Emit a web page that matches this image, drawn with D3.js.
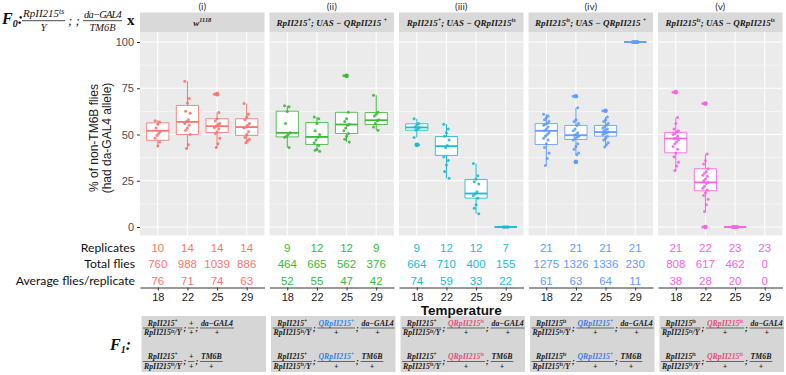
<!DOCTYPE html>
<html>
<head>
<meta charset="utf-8">
<script src="https://cdn.jsdelivr.net/npm/d3@7/dist/d3.min.js"></script>
<style>
  body { margin: 0; background: #fff; }
</style>
</head>
<body>
<div id="chart"></div>
<script>
// panels (facets) and x categories
const panelTitles = ["(i)", "(ii)", "(iii)", "(iv)", "(v)"];
const stripLabels = [
  [["w", "1118"]],
  [["RpII215", "+"], ["; UAS − QRpII215 ", "+"]],
  [["RpII215", "+"], ["; UAS − QRpII215", "ts"]],
  [["RpII215", "ts"], ["; UAS − QRpII215 ", "+"]],
  [["RpII215", "ts"], ["; UAS − QRpII215", "ts"]]
];
const temps = ["18", "22", "25", "29"];
const yTicks = [0, 25, 50, 75, 100];

// table rows under the plot
const replicates = [[10, 14, 14, 14], [9, 12, 12, 9], [9, 12, 12, 7], [21, 21, 21, 21], [21, 22, 23, 23]];
const totalFlies = [[760, 988, 1039, 886], [464, 665, 562, 376], [664, 710, 400, 155], [1275, 1326, 1336, 230], [808, 617, 462, 0]];
const avgFlies = [[76, 71, 74, 63], [52, 55, 47, 42], [74, 59, 33, 22], [61, 63, 64, 11], [38, 28, 20, 0]];

// box stats (% non-TM6B), per panel per temperature
const boxQ1  = [[46.9, 50.0, 51.1, 49.5], [48.7, 44.6, 50.5, 55.4], [52.3, 38.7, 15.6, 0], [44.6, 47.3, 49.1, 100], [40.1, 19.6, 0, null]];
const boxMed = [[52.0, 56.8, 54.5, 54.0], [50.9, 48.7, 55.4, 57.7], [53.8, 43.7, 18.1, 0], [52.0, 49.6, 51.3, 100], [47.8, 24.1, 0, null]];
const boxQ3  = [[56.3, 65.7, 58.5, 58.5], [62.6, 56.5, 62.0, 61.9], [55.8, 48.9, 25.7, 0], [55.9, 54.9, 54.9, 100], [51.1, 31.5, 0, null]];
const whiskLo = [[43.7, 42.4, 43.0, 45.5], [43.0, 41.0, 46.0, 52.3], [48.4, 26.4, 7.2, 0], [33.3, 39.0, 43.3, 100], [30.6, 8.4, 0, null]];
const whiskHi = [[57.7, 78.8, 61.9, 66.7], [65.5, 59.5, 62.0, 71.2], [58.5, 55.6, 34.3, 0], [61.0, 64.4, 59.5, 100], [59.2, 39.4, 0, null]];
const outliers = [
  [[], [], [71.8], []],
  [[], [], [81.7], []],
  [[44.4], [], [], []],
  [[], [70.7, 35.2], [62.8], []],
  [[72.9], [66.7, 0], [], []]
];

// individual replicates
const pointsI = [
  [57.5, 56.8, 55.5, 53.5, 51.5, 50.5, 49.5, 48, 46, 43.8],
  [78.8, 69.4, 67, 62.6, 61.5, 58, 57, 56, 55, 53.5, 52.3, 50, 44.5, 42.4],
  [71.8, 61.9, 58.5, 57.3, 56, 55.5, 54.5, 53.8, 53, 51.5, 50.5, 48, 45, 43],
  [66.7, 61, 59.5, 58, 56, 55, 54, 53.5, 51.5, 50, 48.5, 47.5, 46.5, 45.5]
];
const pointsII = [
  [65.5, 65, 62.5, 56, 51, 50, 49, 48.5, 43],
  [59.5, 58.5, 56, 52, 50, 48.5, 47, 45.5, 44, 42, 41.5, 41],
  [81.7, 62, 58.5, 57, 55.5, 55, 53.5, 52, 50.5, 49, 47.5, 46],
  [71.2, 62, 61, 60, 58, 57.5, 56, 54, 52.3]
];
const pointsIII = [
  [58.5, 56, 55, 54, 53.8, 53, 52.5, 48.4, 44.4],
  [55.6, 53, 51, 49, 47, 44, 43, 38, 36, 33.5, 30, 26.4],
  [34.3, 27.7, 26, 24.5, 23.2, 19, 18, 17, 15.5, 12, 10.2, 7.2],
  [0, 0, 0, 0, 0, 0, 0]
];
const pointsIV = [
  [61, 60, 59, 58, 57, 56, 55.5, 55, 54, 53, 52, 51, 50, 49, 48, 47, 45, 43, 40, 37, 33.3],
  [70.7, 64.4, 58, 57, 56, 54.9, 53, 52, 51, 50, 49.6, 49, 48.5, 48, 47, 45, 43.5, 42, 40, 39, 35.2],
  [62.8, 59.5, 58, 57, 56, 55, 54, 53.5, 53, 52.5, 52, 51.3, 51, 50.5, 50, 49, 48, 47, 45.5, 44.5, 43.3],
  [100, 100, 100, 100, 100, 100, 100, 100, 100, 100, 100, 100, 100, 100, 100, 100, 100, 100, 100, 100, 100]
];
const pointsV = [
  [72.9, 59.2, 56, 53, 52, 51.5, 50.5, 50, 49, 48, 47.8, 47, 46, 45, 43.5, 42, 40, 38, 35, 33, 30.6],
  [66.7, 39.4, 36, 34, 31.5, 30, 29, 28, 27.5, 26, 25, 24.1, 23.5, 22, 21, 20, 18.5, 17, 15, 12, 8.4, 0],
  [0, 0, 0, 0, 0, 0, 0, 0, 0, 0, 0, 0, 0, 0, 0, 0, 0, 0, 0, 0, 0, 0, 0],
  []
];
const points = [pointsI, pointsII, pointsIII, pointsIV, pointsV];

// F1 genotypes under each panel
const f1First = [["RpII215", "+"], ["RpII215", "+"], ["RpII215", "+"], ["RpII215", "ts"], ["RpII215", "ts"]];
const f1Middle = [["+", ""], ["QRpII215", "+"], ["QRpII215", "ts"], ["QRpII215", "+"], ["QRpII215", "ts"]];
const f1Third = ["da−GAL4", "TM6B"];

const colors = ["#F8766D", "#3DB83A", "#1CBBD0", "#619CFF", "#F564E3"];
const midColor = { "+": "#3d7fe0", "ts": "#e4507a", "": "#1a1a1a" };

const W = 786, H = 375;
const svg = d3.select("#chart").append("svg")
  .attr("width", W).attr("height", H)
  .style("font-family", "'Liberation Sans', Arial, sans-serif");

const panelLeft = 140, panelW = 124.5, panelStep = 129.5;
const plotTop = 32, plotBottom = 235.5;
const stripTop = 12.5;
const axisY = 287.5;
const serif = "'Liberation Serif', 'DejaVu Serif', serif";

const y = d3.scaleLinear().domain([0, 100]).range([227, 42]);

// write text with superscripts into a <text>
function rich(sel, segs, fs) {
  let up = false;
  segs.forEach(([t, s]) => {
    if (t) sel.append("tspan").attr("dy", up ? fs * 0.35 : 0).text(t);
    else if (up) sel.append("tspan").attr("dy", fs * 0.35).text("");
    up = false;
    if (s) {
      sel.append("tspan").attr("dy", -fs * 0.35).attr("font-size", fs * 0.7).text(s);
      up = true;
    }
  });
  return sel;
}

// fraction: numerator over a rule over denominator, left edge at x
function frac(g, x, yRule, num, den, fs, color, opts) {
  const o = opts || {};
  const n = rich(g.append("text").attr("y", yRule - fs * 0.3)
      .attr("font-family", serif).attr("font-style", "italic")
      .attr("font-weight", o.bold ? "bold" : "normal")
      .attr("letter-spacing", o.spacing || 0)
      .attr("font-size", fs).attr("fill", color).attr("text-anchor", "middle"), num, fs);
  const d = rich(g.append("text").attr("y", yRule + fs * 0.95)
      .attr("font-family", serif).attr("font-style", "italic")
      .attr("font-weight", o.bold ? "bold" : "normal")
      .attr("font-size", fs).attr("fill", o.denColor || "#1a1a1a").attr("text-anchor", "middle"), den, fs);
  const w = Math.max(n.node().getComputedTextLength(), d.node().getComputedTextLength()) + 2;
  n.attr("x", x + w / 2);
  d.attr("x", x + w / 2);
  g.append("line").attr("x1", x).attr("x2", x + w).attr("y1", yRule).attr("y2", yRule)
    .attr("stroke", "#1a1a1a").attr("stroke-width", o.rule || 0.6);
  return w;
}

const jit = i => ((i * 5) % 7 - 3) * 0.9;

panelTitles.forEach((title, p) => {
  const x0 = panelLeft + p * panelStep, x1 = x0 + panelW;
  const x = d3.scalePoint().domain(temps).range([x0, x1]).padding(0.6);
  const bw = x.step() * 0.75;
  const col = colors[p];
  const g = svg.append("g");

  g.append("text").attr("x", (x0 + x1) / 2).attr("y", 10)
    .attr("text-anchor", "middle").attr("font-family", "Lato, sans-serif")
    .attr("font-size", 10).attr("fill", "#333").text(title);

  g.append("rect").attr("x", x0).attr("y", stripTop).attr("width", panelW)
    .attr("height", plotTop - stripTop).attr("fill", "#d9d9d9");
  rich(g.append("text").attr("x", (x0 + x1) / 2).attr("y", 25.5)
    .attr("text-anchor", "middle").attr("font-family", serif)
    .attr("font-style", "italic").attr("font-weight", "bold")
    .attr("font-size", 9).attr("fill", "#1a1a1a"), stripLabels[p], 9);

  g.append("rect").attr("x", x0).attr("y", plotTop).attr("width", panelW)
    .attr("height", plotBottom - plotTop).attr("fill", "#ebebeb");

  // grid
  [12.5, 37.5, 62.5, 87.5].forEach(v => {
    g.append("line").attr("x1", x0).attr("x2", x1).attr("y1", y(v)).attr("y2", y(v))
      .attr("stroke", "#fff").attr("stroke-width", 0.5);
  });
  yTicks.forEach(v => {
    g.append("line").attr("x1", x0).attr("x2", x1).attr("y1", y(v)).attr("y2", y(v))
      .attr("stroke", "#fff").attr("stroke-width", 1);
  });
  temps.forEach(t => {
    g.append("line").attr("x1", x(t)).attr("x2", x(t)).attr("y1", plotTop).attr("y2", plotBottom)
      .attr("stroke", "#fff").attr("stroke-width", 1);
  });

  // boxes
  temps.forEach((t, k) => {
    if (boxMed[p][k] == null) return;
    const cx = x(t);
    const bx = g.append("g").attr("stroke", col).attr("fill", "none");
    bx.append("line").attr("x1", cx).attr("x2", cx).attr("y1", y(whiskLo[p][k])).attr("y2", y(boxQ1[p][k]))
      .attr("stroke-width", 1);
    bx.append("line").attr("x1", cx).attr("x2", cx).attr("y1", y(boxQ3[p][k])).attr("y2", y(whiskHi[p][k]))
      .attr("stroke-width", 1);
    const yq1 = y(boxQ1[p][k]), yq3 = y(boxQ3[p][k]);
    bx.append("path")
      .attr("d", `M${cx - bw / 2},${yq3}H${cx + bw / 2}V${yq1}H${cx - bw / 2}Z`)
      .attr("fill", "#fff").attr("stroke-width", 1).attr("stroke-opacity", 0.85);
    bx.append("line").attr("x1", cx - bw / 2).attr("x2", cx + bw / 2)
      .attr("y1", y(boxMed[p][k])).attr("y2", y(boxMed[p][k])).attr("stroke-width", 1.8);
    outliers[p][k].forEach(v => {
      g.append("circle").attr("cx", cx).attr("cy", y(v)).attr("r", 2.3).attr("fill", col);
    });
  });

  // jittered replicates
  temps.forEach((t, k) => {
    g.selectAll(null).data(points[p][k]).enter().append("circle")
      .attr("cx", (d, i) => x(t) + jit(i)).attr("cy", d => y(d))
      .attr("r", 1.5).attr("fill", col).attr("fill-opacity", 0.9);
  });

  // table rows
  [replicates, totalFlies, avgFlies].forEach((row, r) => {
    g.selectAll(null).data(temps).enter().append("text")
      .attr("x", t => x(t)).attr("y", 251.5 + r * 16.5)
      .attr("text-anchor", "middle").attr("font-size", 11.5).attr("fill", col)
      .text((t, k) => row[p][k]);
  });

  // x axis
  const ax = g.append("g").attr("transform", `translate(0,${axisY})`)
    .call(d3.axisBottom(x).tickSize(3).tickSizeOuter(0));
  ax.select(".domain").attr("stroke", "#333").attr("stroke-width", 1);
  ax.selectAll(".tick line").attr("stroke", "#333");
  ax.selectAll(".tick text").attr("font-size", 11).attr("fill", "#1a1a1a")
    .attr("font-family", "'Liberation Sans', Arial, sans-serif");

  // F1 box
  const fx = x0 + 1.5;
  g.append("rect").attr("x", fx).attr("y", 316).attr("width", panelW).attr("height", 56)
    .attr("fill", "#d6d6d6");
  [328, 361.5].forEach((yr, r) => {
    const fs = 7.8;
    const fo = { bold: true };
    let cx = fx + 1.5;
    cx += frac(g, cx, yr, [f1First[p]], [["RpII215", "ts"], ["/Y", ""]], fs, "#1a1a1a", fo);
    g.append("text").attr("x", cx + 1).attr("y", yr + 2.5).attr("font-size", 8.5).attr("font-weight", "bold")
      .attr("font-style", "italic").attr("font-family", serif).attr("fill", "#1a1a1a").text(";");
    cx += 5.5;
    const mid = f1Middle[p];
    cx += frac(g, cx, yr, [mid], [["+", ""]], fs, midColor[mid[1]], fo);
    g.append("text").attr("x", cx + 1).attr("y", yr + 2.5).attr("font-size", 8.5).attr("font-weight", "bold")
      .attr("font-style", "italic").attr("font-family", serif).attr("fill", "#1a1a1a").text(";");
    cx += 5.5;
    frac(g, cx, yr, [[f1Third[r], ""]], [["+", ""]], fs, "#1a1a1a", fo);
  });
});

// y axis
const ya = svg.append("g").attr("transform", `translate(${panelLeft},0)`)
  .call(d3.axisLeft(y).tickValues(yTicks).tickSize(3));
ya.select(".domain").remove();
ya.selectAll(".tick line").attr("stroke", "#333");
ya.selectAll(".tick text").attr("font-size", 11).attr("fill", "#4d4d4d")
  .attr("font-family", "'Liberation Sans', Arial, sans-serif");

const yl = svg.append("text").attr("transform", "translate(98,138) rotate(-90)")
  .attr("text-anchor", "middle").attr("font-size", 12).attr("fill", "#1a1a1a");
yl.append("tspan").attr("x", 0).attr("y", 0).text("% of non-TM6B flies");
yl.append("tspan").attr("x", 0).attr("y", 12.5).text("(had da-GAL4 allele)");

// row labels
["Replicates", "Total flies", "Average flies/replicate"].forEach((lab, r) => {
  svg.append("text").attr("x", 135).attr("y", 251.5 + r * 16.5).attr("text-anchor", "end")
    .attr("font-family", "Lato, sans-serif").attr("font-size", 12.2).attr("fill", "#111").text(lab);
});

svg.append("text").attr("x", panelLeft + (4 * panelStep + panelW) / 2).attr("y", 314.5)
  .attr("text-anchor", "middle").attr("font-size", 13.5).attr("font-weight", "bold")
  .attr("fill", "#111").text("Temperature");

// F0 header
const hdr = svg.append("g");
const f0 = hdr.append("text").attr("x", 2).attr("y", 23.5).attr("font-family", serif)
  .attr("font-style", "italic").attr("font-weight", "bold").attr("font-size", 16).attr("fill", "#111");
f0.append("tspan").text("F");
f0.append("tspan").attr("font-size", 10).attr("dy", 3).text("0");
f0.append("tspan").attr("dy", -3).text(":");
frac(hdr, 22, 20.7, [["RpII215", "ts"]], [["Y", ""]], 11, "#111", { rule: 0.8 });
hdr.append("text").attr("x", 68).attr("y", 24.5).attr("font-family", serif).attr("font-style", "italic")
  .attr("font-size", 13).attr("fill", "#111").text("; ;");
frac(hdr, 83, 20.7, [["da−GAL4", ""]], [["TM6B", ""]], 10.5, "#111", { rule: 0.8, spacing: -0.8 });
hdr.append("text").attr("x", 127).attr("y", 25).attr("font-family", serif).attr("font-weight", "bold")
  .attr("font-size", 15).attr("fill", "#111").text("x");

// F1 label
const f1 = svg.append("text").attr("x", 110).attr("y", 350).attr("font-family", serif)
  .attr("font-style", "italic").attr("font-weight", "bold").attr("font-size", 16).attr("fill", "#111");
f1.append("tspan").text("F");
f1.append("tspan").attr("font-size", 10).attr("dy", 3).text("1");
f1.append("tspan").attr("dy", -3).text(":");
</script>
</body>
</html>
